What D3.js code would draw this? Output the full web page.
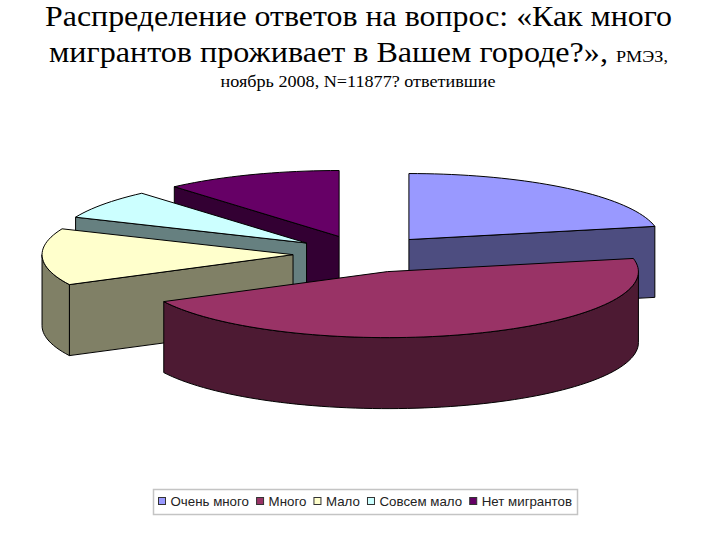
<!DOCTYPE html>
<html>
<head>
<meta charset="utf-8">
<script src="https://cdn.jsdelivr.net/npm/d3@7"></script>
<style>
  html, body { margin: 0; padding: 0; background: #fff; }
  svg { display: block; }
</style>
</head>
<body>
<div id="chart"></div>
<script>
const categories = ["Очень много", "Много", "Мало", "Совсем мало", "Нет мигрантов"];
const shares = [21.8, 45.7, 13.9, 7.2, 11.4];
const topColors = ["#9999ff", "#993366", "#ffffcc", "#ccffff", "#660066"];
const wallColors = ["#4d4d80", "#4d1a33", "#808066", "#668080", "#330033"];
const drawOrder = [4, 3, 2, 0, 1];

const WIDTH = 720, HEIGHT = 540;
const CX = 364, CY = 254, RX = 251, RY = 66, DEPTH = 71, EXPLODE = 71;

const svg = d3.select("#chart").append("svg")
  .attr("width", WIDTH)
  .attr("height", HEIGHT);

// title, the glyphs of the reference are a bit wider than the font
const serif = "'Liberation Serif', serif";
const titleLine = (px, py, size) => svg.append("text")
  .attr("transform", `translate(${px}, ${py}) scale(1.1, 1)`)
  .attr("text-anchor", "middle")
  .attr("font-family", serif)
  .attr("font-size", size);

titleLine(358.5, 26, 29).text("Распределение ответов на вопрос: «Как много");

const line2 = titleLine(358.5, 62, 29.2).text("мигрантов проживает в Вашем городе?», ");
line2.append("tspan").attr("font-size", 16.5).text("РМЭЗ,");

titleLine(358, 86.5, 16.5).text("ноябрь 2008, N=11877? ответившие");

// pie
const x = d3.scaleLinear().domain([-1, 1]).range([-RX, RX]);
const y = d3.scaleLinear().domain([-1, 1]).range([RY, -RY]);
const pie = d3.pie().sort(null).value(d => d);
const slices = pie(shares);
const line = d3.line();
const DEG = Math.PI / 180;

function rim(a0, a1) {
  const n = Math.max(2, Math.ceil((a1 - a0) / (2 * DEG)));
  return d3.range(n + 1).map(i => {
    const a = a0 + (a1 - a0) * i / n;
    return [x(Math.sin(a)), y(Math.cos(a))];
  });
}

function drawSlice(i) {
  const s = slices[i];
  const mid = (s.startAngle + s.endAngle) / 2;
  const ex = EXPLODE / RX;
  const g = svg.append("g")
    .attr("transform", `translate(${CX + x(Math.sin(mid) * ex)}, ${CY + y(Math.cos(mid) * ex)})`)
    .attr("stroke", "#000")
    .attr("stroke-width", 1)
    .attr("stroke-linejoin", "round");

  const down = p => [p[0], p[1] + DEPTH];
  const wall = pts => g.append("path")
    .attr("d", line(pts.concat(pts.slice().reverse().map(down))) + "Z")
    .attr("fill", wallColors[i]);

  // radial walls facing the viewer
  if (Math.sin(s.startAngle) < -1e-6) {
    wall([[0, 0], rim(s.startAngle, s.startAngle + DEG)[0]]);
  }
  if (Math.sin(s.endAngle) > 1e-6) {
    wall([[0, 0], rim(s.endAngle - DEG, s.endAngle).pop()]);
  }
  // outer wall, front half only
  const a0 = Math.max(s.startAngle, Math.PI / 2);
  const a1 = Math.min(s.endAngle, 3 * Math.PI / 2);
  if (a1 > a0) wall(rim(a0, a1));

  g.append("path")
    .attr("d", line([[0, 0]].concat(rim(s.startAngle, s.endAngle))) + "Z")
    .attr("fill", topColors[i]);
}

drawOrder.forEach(drawSlice);

// legend
const legend = svg.append("g");
legend.append("rect")
  .attr("x", 153.5).attr("y", 489.5)
  .attr("width", 424).attr("height", 25)
  .attr("fill", "#fff")
  .attr("stroke", "#c4c4c4")
  .attr("stroke-width", 1.5);

let lx = 158.5;
categories.forEach((c, i) => {
  legend.append("rect")
    .attr("x", lx).attr("y", 497.5)
    .attr("width", 7).attr("height", 7)
    .attr("fill", topColors[i])
    .attr("stroke", "#333");
  const t = legend.append("text")
    .attr("x", lx + 12).attr("y", 505.5)
    .attr("font-family", "'Liberation Sans', sans-serif")
    .attr("font-size", 13.3)
    .attr("fill", "#222")
    .text(c);
  lx += 12 + t.node().getComputedTextLength() + 7.6;
});
</script>
</body>
</html>
